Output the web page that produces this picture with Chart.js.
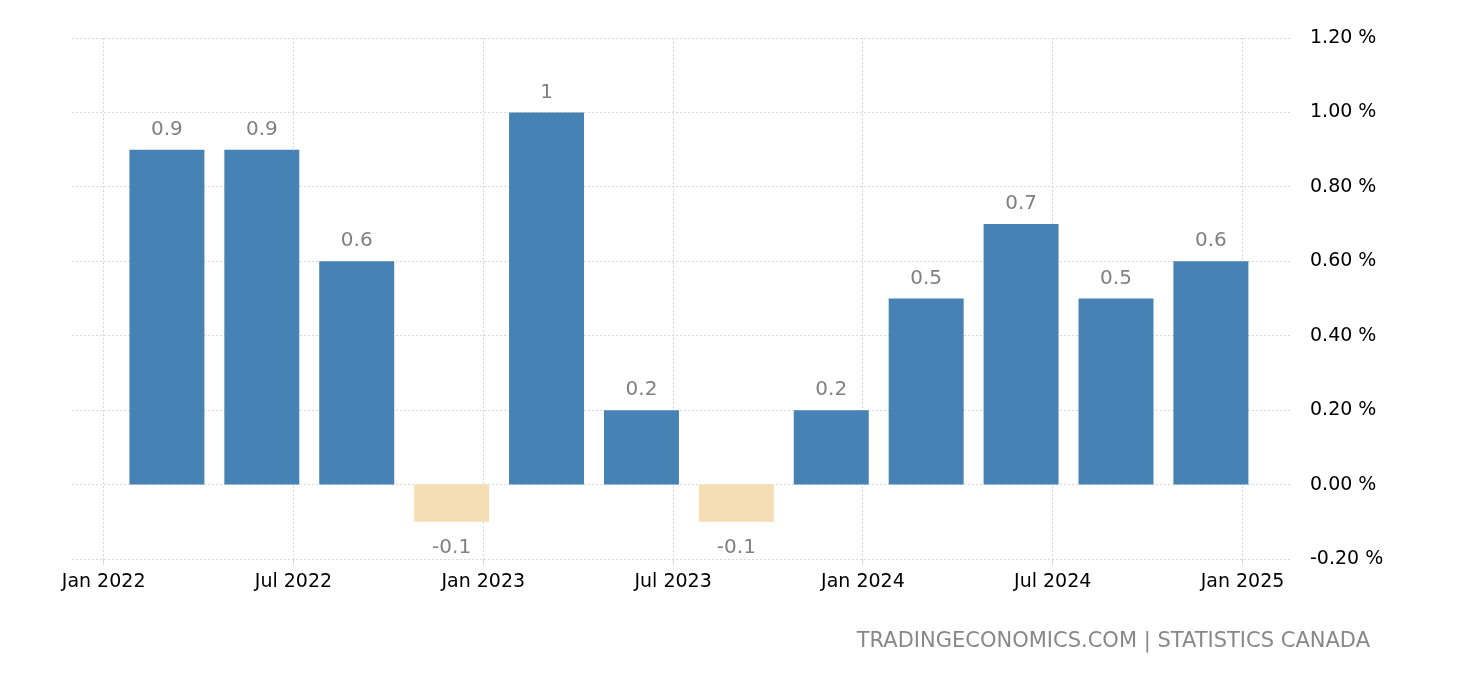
<!DOCTYPE html>
<html>
<head>
<meta charset="utf-8">
<script src="https://cdn.jsdelivr.net/npm/chart.js@4/dist/chart.umd.min.js"></script>
<style>
  html, body { margin: 0; padding: 0; background: #fff; }
  #wrap { width: 1460px; height: 680px; }
</style>
</head>
<body>
<div id="wrap"><canvas id="c" width="1460" height="680"></canvas></div>
<script>
// months counted from Jan 2022 (0); bars sit at quarter ends
const months = [2, 5, 8, 11, 14, 17, 20, 23, 26, 29, 32, 35];
const values = [0.9, 0.9, 0.6, -0.1, 1, 0.2, -0.1, 0.2, 0.5, 0.7, 0.5, 0.6];
const tickMonths = [0, 6, 12, 18, 24, 30, 36];
const tickLabels = ["Jan 2022", "Jul 2022", "Jan 2023", "Jul 2023", "Jan 2024", "Jul 2024", "Jan 2025"];

const labelPlugin = {
  id: "labels",
  afterDatasetsDraw(chart) {
    const ctx = chart.ctx;
    const meta = chart.getDatasetMeta(0);
    ctx.save();
    ctx.font = "20px 'DejaVu Sans'";
    ctx.fillStyle = "#808080";
    ctx.textAlign = "center";
    meta.data.forEach((bar, i) => {
      const v = values[i];
      if (v >= 0) {
        ctx.textBaseline = "bottom";
        ctx.fillText(String(v), bar.x, bar.y - 10);
      } else {
        ctx.textBaseline = "top";
        ctx.fillText(String(v), bar.x, bar.y + 16);
      }
    });
    ctx.font = "21px 'DejaVu Sans'";
    ctx.textAlign = "right";
    ctx.textBaseline = "middle";
    ctx.fillStyle = "#888";
    ctx.fillText("TRADINGECONOMICS.COM | STATISTICS CANADA", 1370, 642);
    ctx.restore();
  }
};

new Chart(document.getElementById("c"), {
  type: "bar",
  data: {
    datasets: [{
      data: months.map((m, i) => ({ x: m, y: values[i] })),
      backgroundColor: values.map(v => v < 0 ? "#F5DEB3" : "#4682B4"),
      barPercentage: 0.79,
      categoryPercentage: 1
    }]
  },
  options: {
    responsive: false,
    animation: false,
    layout: { padding: { left: 72, top: 38, right: 0, bottom: 0 } },
    plugins: { legend: { display: false }, tooltip: { enabled: false } },
    scales: {
      x: {
        type: "linear",
        offset: false,
        min: -1,
        max: 37.5,
        afterBuildTicks(scale) { scale.ticks = tickMonths.map(v => ({ value: v })); },
        afterFit(scale) { scale.height = 121; },
        ticks: {
          callback: (v) => tickLabels[tickMonths.indexOf(v)],
          font: { family: "DejaVu Sans", size: 19 },
          color: "#000",
          padding: 6,
          maxRotation: 0
        },
        grid: { color: "#d8d8d8", tickLength: 6, offset: false },
        border: { display: false, dash: [2, 2] }
      },
      y: {
        position: "right",
        min: -0.2,
        max: 1.2,
        afterFit(scale) { scale.width = 170; },
        ticks: {
          stepSize: 0.2,
          callback: (v) => (Math.abs(v) < 1e-9 ? 0 : v).toFixed(2) + " %",
          font: { family: "DejaVu Sans", size: 19 },
          color: "#000",
          padding: 20
        },
        grid: { color: "#d8d8d8", drawTicks: false },
        border: { display: false, dash: [2, 2] }
      }
    }
  },
  plugins: [labelPlugin]
});
</script>
</body>
</html>
